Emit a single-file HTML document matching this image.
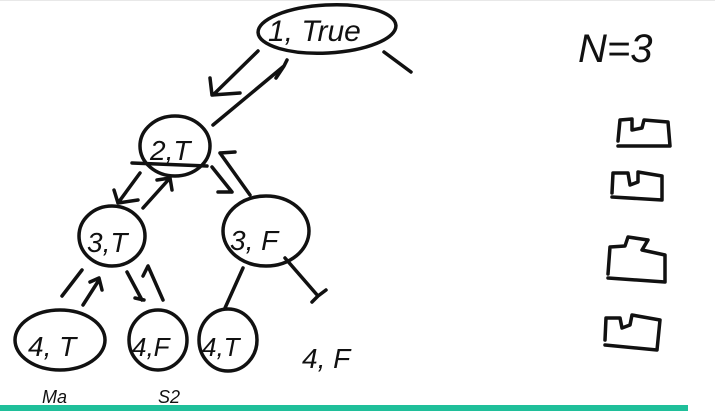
<!DOCTYPE html>
<html><head><meta charset="utf-8"><style>
html,body{margin:0;padding:0;background:#fff}
svg{display:block}
text{font-family:"Liberation Sans",sans-serif;fill:#111;font-style:italic}
.s{fill:none;stroke:#111;stroke-width:3.5;stroke-linecap:round;stroke-linejoin:round}
</style></head><body>
<svg width="715" height="411" viewBox="0 0 715 411">
<rect x="0" y="0" width="715" height="1" fill="#e8e8e8"/>
<g>
<ellipse class="s" cx="327" cy="29" rx="69" ry="24" transform="rotate(-3 327 29)"/>
<text x="268" y="41" font-size="30">1, True</text>
</g>
<path class="s" d="M384 52 L411 72"/>
<path class="s" d="M258 51 L213 95 M210 78 L212 95 L240 93"/>
<path class="s" d="M213 125 L284 66 L287 60 M284 66 L276 78"/>
<g>
<ellipse class="s" cx="175" cy="146" rx="35" ry="30"/>
<text x="150" y="160" font-size="28">2,T</text>
<path class="s" d="M132 163 L207 166"/>
</g>
<path class="s" d="M140 173 L118 203 M114 190 L118 203 L138 200"/>
<path class="s" d="M143 208 L170 178 M157 180 L170 178 L172 190"/>
<path class="s" d="M212 167 L232 192 M218 192 L232 192 M220 153 L250 195 M220 153 L235 152"/>
<g>
<ellipse class="s" cx="112" cy="236" rx="33" ry="30"/>
<text x="87" y="252" font-size="28">3,T</text>
</g>
<g>
<ellipse class="s" cx="266" cy="231" rx="43" ry="35"/>
<text x="230" y="250" font-size="28">3, F</text>
</g>
<path class="s" d="M243 268 L225 308"/>
<path class="s" d="M285 258 L318 296 L326 290 M318 296 L312 302"/>
<path class="s" d="M62 296 L82 270 M83 305 L99 280 M90 282 L99 278 L102 290"/>
<path class="s" d="M127 272 L142 300 M135 298 L144 300 M163 300 L148 266 L143 276"/>
<g>
<ellipse class="s" cx="60" cy="340" rx="45" ry="30"/>
<text x="28" y="356" font-size="28">4, T</text>
</g>
<g>
<ellipse class="s" cx="158" cy="340" rx="29" ry="30"/>
<text x="132" y="356" font-size="26">4,F</text>
</g>
<g>
<ellipse class="s" cx="228" cy="340" rx="29" ry="31"/>
<text x="202" y="356" font-size="26">4,T</text>
</g>
<text x="302" y="368" font-size="28">4, F</text>
<text x="42" y="403" font-size="18">Ma</text>
<text x="158" y="403" font-size="18">S2</text>
<text x="578" y="62" font-size="40">N=3</text>
<g>
<path class="s" d="M618 141 L620 120 L632 119 L632 130 L642 128 L644 120 L668 122 L670 146 L618 146"/>
<path class="s" d="M612 193 L613 173 L628 173 L630 185 L638 182 L638 172 L662 176 L662 200 L612 197"/>
<path class="s" d="M608 274 L610 247 L625 246 L628 237 L648 240 L642 250 L665 255 L665 282 L608 278"/>
<path class="s" d="M605 340 L606 318 L620 318 L622 328 L630 325 L632 315 L660 320 L657 350 L605 345"/>
</g>
<rect x="0" y="405" width="688" height="6" fill="#1fbf9a"/>
</svg>
</body></html>
